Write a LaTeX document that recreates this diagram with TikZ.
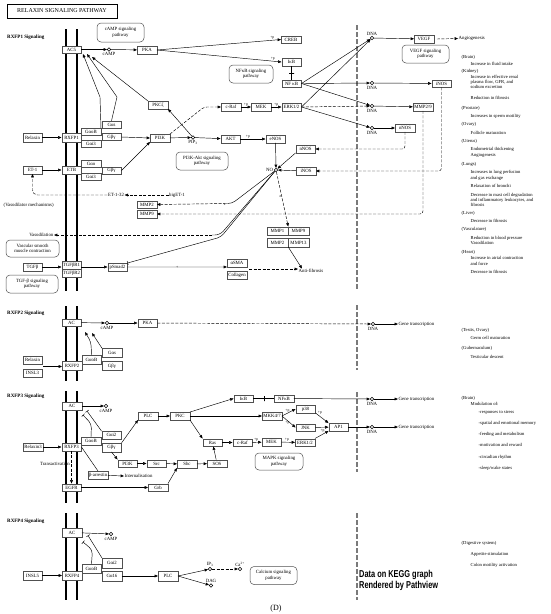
\documentclass[tikz,border=0pt]{standalone}
\usepackage{fontspec}
\setmainfont{Liberation Serif}
\newfontfamily\pathviewfont[FakeStretch=0.74]{Liberation Sans}
\usetikzlibrary{
  arrows.meta,
  positioning
}
\definecolor{BoxGray}{HTML}{505050}
\definecolor{NucleusGray}{HTML}{7A7A7A}
\tikzset{
  gene/.style={
    draw=BoxGray,
    line width=0.45pt,
    fill=white,
    minimum width=19.5pt,
    minimum height=7.5pt,
    inner sep=0.3pt,
    font=\fontsize{4.8}{5}\selectfont
  },
  pathway/.style={
    draw=BoxGray,
    line width=0.5pt,
    rounded corners=4pt,
    fill=white,
    align=center,
    inner sep=0.5pt,
    font=\fontsize{4.8}{5.4}\selectfont
  },
  compound/.style={
    circle,
    draw,
    line width=0.45pt,
    fill=white,
    minimum size=3.6pt,
    inner sep=0pt
  },
  note/.style={
    inner sep=0.5pt,
    font=\fontsize{4.8}{5.2}\selectfont
  },
  effect/.style={
    anchor=west,
    align=left,
    inner sep=0.5pt,
    font=\fontsize{4.6}{5.3}\selectfont
  },
  heading/.style={
    anchor=west,
    inner sep=0pt,
    font=\fontsize{5}{6}\selectfont\bfseries
  },
  phos/.style={
    inner sep=0.3pt,
    font=\fontsize{3.8}{4}\selectfont
  },
  activation/.style={
    -{Triangle[length=3.4pt,width=2.8pt]},
    line width=0.45pt
  },
  expression/.style={
    activation,
    dash pattern=on 3pt off 1.5pt
  },
  inhibition/.style={
    -{Bar[width=4pt]},
    line width=0.45pt
  },
  binding/.style={
    line width=0.45pt
  },
  tickmark/.style={
    draw,
    line width=0.45pt,
    inner sep=0pt,
    minimum width=0pt,
    minimum height=5pt
  },
  membrane/.style={
    line width=1.4pt
  },
  nucleus/.style={
    draw=NucleusGray,
    line width=2.6pt,
    dash pattern=on 5pt off 2pt
  }
}

\begin{document}
\begin{tikzpicture}[x=1pt, y=-1pt]
  \useasboundingbox (0,0) rectangle (550,614);

  % plasma membrane
  \draw[membrane] (66,29) -- (66,291);
  \draw[membrane] (77,29) -- (77,291);
  \draw[membrane] (66,306) -- (66,381);
  \draw[membrane] (77,306) -- (77,381);
  \draw[membrane] (66,391) -- (66,503);
  \draw[membrane] (77,391) -- (77,503);
  \draw[membrane] (66,513) -- (66,600);
  \draw[membrane] (77,513) -- (77,600);

  % nuclear envelope
  \draw[nucleus] (357,25) -- (357,290);
  \draw[nucleus] (357,305) -- (357,370);
  \draw[nucleus] (357,392) -- (357,472);
  \draw[nucleus] (357,513) -- (357,600);

  \node[
    draw,
    line width=0.6pt,
    minimum width=110pt,
    minimum height=14pt,
    font=\fontsize{6}{7}\selectfont
  ] (title) at (62,11) {RELAXIN SIGNALING PATHWAY};

  % ---- RXFP1 signaling ----
  \node[heading] (sig1) at (7,37) {RXFP1 Signaling};

  \node[gene] (ac1) at (71.5,49.5) {AC5};
  \node[compound] (camp1) at (109,49.5) {};
  \node[note, below=0.2pt of camp1] (camp1txt) {cAMP};
  \node[pathway, minimum width=47pt, minimum height=19pt] (camppath) at (120.5,32.5) {cAMP signaling\\pathway};
  \node[gene] (pka1) at (147,50) {PKA};
  \node[gene] (creb) at (291,39.5) {CREB};
  \node[gene] (ikb1) at (291.5,62) {IκB};
  \node[gene] (nfkb1) at (291.5,83.5) {NF κB};
  \node[pathway, minimum width=44pt, minimum height=18pt] (nfkbpath) at (251,74) {NFκB signaling\\pathway};

  \node[compound] (dna1) at (372,38) {};
  \node[note, above=0.2pt of dna1] (dna1txt) {DNA};
  \node[compound] (dna2) at (372,83) {};
  \node[note, below=0.2pt of dna2] (dna2txt) {DNA};
  \node[compound] (dna3) at (372,106) {};
  \node[note, below=0.2pt of dna3] (dna3txt) {DNA};
  \node[compound] (dna4) at (372,128) {};
  \node[note, below=0.2pt of dna4] (dna4txt) {DNA};

  \node[gene] (vegf) at (424,39) {VEGF};
  \node[note, anchor=west] (angio) at (458,38.5) {Angiogenesis};
  \node[pathway, minimum width=47pt, minimum height=18pt] (vegfpath) at (425.5,54) {VEGF signaling\\pathway};
  \node[gene] (inos1) at (441.5,83.5) {iNOS};
  \node[gene, minimum width=20pt] (mmp29) at (423,107) {MMP2/9};
  \node[gene] (nnos1) at (405,128) {nNOS};

  \node[gene] (craf1) at (231,107) {c-Raf};
  \node[gene] (mek1) at (261,107) {MEK};
  \node[gene] (erk1) at (291.5,107) {ERK1/2};
  \node[gene] (pkcz) at (158,105) {PKCζ};

  \node[gene, minimum height=7pt] (gas1) at (111.5,124.5) {Gαs};
  \node[gene, minimum height=7pt] (goB1) at (91,131.5) {GαoB};
  \node[gene, minimum height=7pt] (gbg1) at (111.5,137) {Gβγ};
  \node[gene, minimum height=7pt] (gi31) at (91,144) {Gαi3};
  \node[gene, minimum height=8.5pt] (relaxin1) at (32.5,137.5) {Relaxin};
  \node[gene, minimum height=8.5pt] (rxfp1) at (71.5,137.5) {RXFP1};
  \coordinate (ac1in1) at (83,54);
  \coordinate (ac1in2) at (87,54);
  \coordinate (ac1in3) at (92,57);
  \coordinate (goB1bend) at (100,97);
  \coordinate (gas1bend) at (117,97);

  \node[gene] (pi3k1) at (160,138) {PI3K};
  \node[compound] (pip3) at (193,137.5) {};
  \node[note, below=0.2pt of pip3] (pip3txt) {PIP\textsubscript{3}};
  \coordinate (pi3k1bend) at (204,107);
  \node[gene] (akt) at (230.5,139) {AKT};
  \node[gene] (enos) at (275.5,139) {eNOS};
  \node[pathway, minimum width=52pt, minimum height=18pt] (pi3kpath) at (202,161) {PI3K-Akt signaling\\pathway};
  \node[compound] (no) at (276,170) {};
  \node[note, left=0.3pt of no] (notxt) {NO};
  \node[gene] (nnos2) at (305.5,149) {nNOS};
  \node[gene] (inos2) at (306,171) {iNOS};

  \node[gene] (et1) at (32.5,170) {ET-1};
  \node[gene] (etb) at (71.5,170) {ETB};
  \node[gene, minimum height=7pt] (gao) at (91,164) {Gαo};
  \node[gene, minimum height=7pt] (gi3e) at (91,176.5) {Gαi3};
  \node[gene, minimum height=7pt] (gbge) at (111.5,170.5) {Gβγ};

  \node[note] (biget) at (177,195) {bigET-1};
  \node[note] (et132) at (116,195) {ET-1-32};
  \node[note, anchor=west] (vasomech) at (3,205) {(Vasodilator mechanisms)};
  \node[gene] (mmp2) at (147,204.5) {MMP2};
  \node[gene] (mmp9) at (147,214) {MMP9};
  \node[note, anchor=east] (vasod) at (54,235) {Vasodilation};
  \node[pathway, minimum width=53pt, minimum height=17pt] (vsmpath) at (32.5,248.5) {Vascular smooth\\muscle contraction};
  \coordinate (nommp1) at (232,203.5);
  \coordinate (nommp) at (226,203.5);
  \coordinate (novaso1) at (220,235);
  \coordinate (novaso) at (212,235);
  \coordinate (nosmad) at (221,237);

  \node[gene, minimum width=21pt, minimum height=8.5pt] (gmmp1) at (277.5,231) {MMP1};
  \node[gene, minimum width=21pt, minimum height=8.5pt] (gmmp9) at (298.5,231) {MMP9};
  \node[gene, minimum width=21pt, minimum height=8.5pt] (gmmp2) at (277.5,242.5) {MMP2};
  \node[gene, minimum width=21pt, minimum height=8.5pt] (gmmp13) at (298.5,242.5) {MMP13};
  \node[note, anchor=west] (antifib) at (298,271) {Anti-fibrosis};

  \node[gene] (tgfb) at (32.5,267) {TGFβ};
  \node[gene, minimum height=8pt] (tgfbr1) at (71.5,265) {TGFβR1};
  \node[gene, minimum height=8pt] (tgfbr2) at (71.5,273) {TGFβR2};
  \node[gene] (psmad2) at (117.5,267) {pSmad2};
  \node[gene] (asma) at (237,263) {αSMA};
  \node[gene] (collagen) at (237,275) {Collagen};
  \coordinate (fibsrc) at (249,269);
  \node[pathway, minimum width=52pt, minimum height=18pt] (tgfpath) at (32,284) {TGF-β signaling\\pathway};

  \draw[activation] (ac1) -- (camp1);
  \draw[activation] (camp1) -- (pka1);
  \draw[activation] (pka1.east) -- node[phos, above, pos=0.93] {+p} (creb.west);
  \draw[activation] (pka1.east) -- node[phos, above, pos=0.93] {+p} (ikb1.west);
  \draw[binding] (ikb1) -- node[tickmark, midway, sloped] {} (nfkb1);
  \draw[activation] (nfkb1.east) -- (dna1);
  \draw[activation] (nfkb1.east) -- (dna2);
  \draw[activation] (nfkb1.east) -- (dna3);
  \draw[activation] (erk1.east) -- (dna1);
  \draw[expression] (erk1.east) -- (dna3);
  \draw[activation] (erk1.east) -- (dna4);
  \draw[activation] (dna1) -- (vegf);
  \draw[expression] ([xshift=3pt]vegf.east) -- (angio.west);
  \draw[activation] (dna2) -- (inos1);
  \draw[activation] (dna3) -- (mmp29);
  \draw[activation] (dna4) -- (nnos1);
  \draw[expression, rounded corners=3pt] (inos1.south) |- (inos2.east);
  \draw[expression, rounded corners=3pt] (mmp29.south) |- (mmp9.east);
  \draw[expression, rounded corners=3pt] (nnos1.south) |- (nnos2.east);

  \draw[activation] (goB1.north east) -- (goB1bend) -- (ac1in1);
  \draw[activation] (gas1.north) -- (gas1bend) -- (ac1in2);
  \draw[activation] (pkcz.north west) -- (ac1in3);
  \draw[activation] (pip3) -- (pkcz.south east);
  \draw[expression, rounded corners=3pt] (pi3k1.north east) -- (pi3k1bend) -- (craf1.west);
  \draw[activation] (craf1) -- node[phos, above] {+p} (mek1);
  \draw[activation] (mek1) -- node[phos, above] {+p} (erk1);
  \draw[activation] (relaxin1) -- (rxfp1);
  \draw[activation] (gbg1.east) -- (pi3k1.west);
  \draw[activation] (et1) -- (etb);
  \draw[activation] (gbge.east) -- (pi3k1.south west);
  \draw[activation] (pi3k1) -- (pip3);
  \draw[activation] (pip3) -- (akt);
  \draw[activation] (akt) -- node[phos, above, pos=0.3] {+p} (enos);
  \draw[activation] (enos) -- (no);
  \draw[activation] (nnos2.south west) -- (no);
  \draw[activation] (inos2) -- (no);

  \draw[expression] (biget.west) -- (et132.east);
  \draw[expression, rounded corners=5pt] (et132.west) -| (et1.south);
  \draw[binding, rounded corners=4pt] (no) -- (nommp1) -- (nommp);
  \draw[expression] (nommp) -- node[phos, below, pos=0.02] {e} (mmp2.east);
  \draw[binding, rounded corners=5pt] (no) -- (novaso1) -- (novaso);
  \draw[expression] (novaso) -- (vasod.east);
  \draw[inhibition, rounded corners=4pt] (no) -- (nosmad) -- (psmad2.north east);
  \draw[expression] (no) -- node[phos, left, pos=0.45] {e} (gmmp1.north east);
  \draw[activation] (gmmp2.south east) -- ([xshift=4pt]antifib.north west);

  \draw[activation] (tgfb.east) -- (tgfb.east -| tgfbr1.west);
  \draw[activation] (tgfbr1.east |- psmad2.west) -- (psmad2.west);
  \draw[activation] (psmad2.east) -- node[phos, midway] {+} (asma.south west);
  \draw[expression] (fibsrc) -- (fibsrc -| antifib.west);

  % effects of RXFP1
  \node[effect] (e1) at (461,57) {(Brain)};
  \node[effect] (e2) at (470,64) {Increase in fluid intake};
  \node[effect] (e3) at (461,71) {(Kidney)};
  \node[effect] (e4) at (470,82) {Increase in effective renal\\plasma flow, GFR, and\\sodium excretion};
  \node[effect] (e5) at (470,98) {Reduction in fibrosis};
  \node[effect] (e6) at (461,108) {(Prostate)};
  \node[effect] (e7) at (470,116) {Increases in sperm motility};
  \node[effect] (e8) at (461,124.5) {(Ovary)};
  \node[effect] (e9) at (470,133) {Follicle maturation};
  \node[effect] (e10) at (461,141.5) {(Uterus)};
  \node[effect] (e11) at (470,152.5) {Endometrial thickening\\Angiogenesis};
  \node[effect] (e12) at (461,164) {(Lungs)};
  \node[effect] (e13) at (470,175.5) {Increases in lung perfusion\\and gas exchange};
  \node[effect] (e14) at (470,186) {Relaxation of bronchi};
  \node[effect] (e15) at (470,200) {Decrease in mast cell degradation\\and inflammatory leukocytes, and\\fibrosis};
  \node[effect] (e16) at (461,213) {(Liver)};
  \node[effect] (e17) at (470,221) {Decrease in fibrosis};
  \node[effect] (e18) at (461,229) {(Vasculature)};
  \node[effect] (e19) at (470,240.5) {Reduction in blood pressure\\Vasodilation};
  \node[effect] (e20) at (461,252) {(Heart)};
  \node[effect] (e21) at (470,261) {Increase in atrial contraction\\and force};
  \node[effect] (e22) at (470,272) {Decrease in fibrosis};

  % ---- RXFP2 signaling ----
  \node[heading] (sig2) at (7,313) {RXFP2 Signaling};

  \node[gene] (ac2) at (71.5,322.5) {AC};
  \node[compound] (camp2) at (107,323) {};
  \node[note, below=0.2pt of camp2] (camp2txt) {cAMP};
  \node[gene] (pka2) at (147.5,323) {PKA};
  \node[compound] (dna5) at (373,324) {};
  \node[note, below=0.2pt of dna5] (dna5txt) {DNA};
  \node[note, anchor=west] (gt1) at (398,324) {Gene transcription};
  \node[gene] (relaxin2) at (32.5,360) {Relaxin};
  \node[gene] (insl3) at (32.5,373) {INSL3};
  \coordinate (lig2) at (43,366.5);
  \node[gene, minimum height=9pt] (rxfp2) at (72,366) {RXFP2};
  \node[gene, minimum height=8.5pt] (goB2) at (91.5,359.5) {GαoB};
  \node[gene, minimum height=9pt] (gas2) at (112,353) {Gαs};
  \node[gene, minimum height=9pt] (gbg2) at (112,366) {Gβγ};
  \coordinate (goB2bend) at (91,342);
  \coordinate (ac2in1) at (85,332);
  \coordinate (ac2in2) at (92,333);

  \draw[activation] (ac2) -- (camp2);
  \draw[activation] (camp2) -- (pka2);
  \draw[expression] (pka2) -- (dna5);
  \draw[activation] (dna5) -- (gt1.west);
  \draw[activation] (lig2) -- (lig2 -| rxfp2.west);
  \draw[activation, rounded corners=4pt] (goB2.north) -- (goB2bend) -- (ac2in1);
  \draw[activation] (gas2.north west) -- (ac2in2);

  \node[effect] (f1) at (461,330) {(Testis, Ovary)};
  \node[effect] (f2) at (470,338) {Germ cell maturation};
  \node[effect] (f3) at (461,348) {(Gubernaculum)};
  \node[effect] (f4) at (470,357) {Testicular descent};

  % ---- RXFP3 signaling ----
  \node[heading] (sig3) at (7,396) {RXFP3 Signaling};

  \node[gene] (ikb3) at (243.5,398.5) {IκB};
  \node[gene] (nfkb3) at (284,398.5) {NFκB};
  \node[compound] (dna6) at (372,399) {};
  \node[note, below=0.2pt of dna6] (dna6txt) {DNA};
  \node[note, anchor=west] (gt2) at (398,399) {Gene transcription};
  \node[gene] (ac3) at (72,406) {AC};
  \node[compound] (camp3) at (106,406) {};
  \node[note, below=0.2pt of camp3] (camp3txt) {cAMP};
  \coordinate (ac3in1) at (87,411);
  \coordinate (ac3in2) at (83,415);
  \coordinate (goB3bend) at (91.5,424);

  \node[gene] (relaxin3) at (33,447) {Relaxin3};
  \node[gene] (rxfp3) at (71.5,447) {RXFP3};
  \node[gene] (goB3) at (91,441) {GαoB};
  \node[gene] (gi23) at (111.5,435) {Gαi2};
  \node[gene, minimum height=8.5pt] (gbg3) at (111.5,447.5) {Gβγ};

  \node[gene] (plc3) at (148,416) {PLC};
  \node[gene] (pkc3) at (180,416) {PKC};
  \node[gene] (mkk) at (272,416) {MKK4/7};
  \node[gene] (ras) at (212.5,442.5) {Ras};
  \node[gene] (craf3) at (242.5,442.5) {c-Raf};
  \node[gene] (mek3) at (271.5,442) {MEK};
  \node[gene] (erk3) at (305,442.5) {ERK1/2};
  \node[gene] (p38) at (305.5,409) {p38};
  \node[gene] (jnk) at (305.5,427.5) {JNK};
  \node[gene] (ap1) at (338.5,427) {AP1};
  \node[compound] (dna7) at (372,427) {};
  \node[note, below=0.2pt of dna7] (dna7txt) {DNA};
  \node[note, anchor=west] (gt3) at (398,427) {Gene transcription};
  \node[pathway, minimum width=48pt, minimum height=17pt] (mapkpath) at (279,461.5) {MAPK signaling\\pathway};

  \node[gene] (pi3k3) at (127.5,463.5) {PI3K};
  \node[gene] (src) at (156.5,463.5) {Src};
  \node[gene] (shc) at (187,464) {Shc};
  \node[gene] (sos) at (217,463.5) {SOS};
  \node[gene] (barr) at (98,475) {β-arrestin};
  \node[note, anchor=west] (intern) at (124,476) {Internalisation};
  \node[note, anchor=east] (transact) at (70.5,464) {Transactivation};
  \node[gene] (egfr) at (71.5,487.5) {EGFR};
  \node[gene] (grb) at (158,487.5) {Grb};

  \draw[activation] (pkc3.north east) -- (ikb3.west);
  \draw[binding] (ikb3) -- node[tickmark, midway, sloped] {} (nfkb3);
  \draw[activation] (nfkb3) -- (dna6);
  \draw[activation] (dna6) -- (gt2.west);
  \draw[activation] (ac3) -- (camp3);
  \draw[inhibition] (gi23.north west) -- (ac3in1);
  \draw[inhibition, rounded corners=4pt] (goB3.north) -- (goB3bend) -- (ac3in2);
  \draw[activation] (relaxin3) -- (rxfp3);
  \draw[activation] (gbg3.north east) -- (plc3.south west);
  \draw[activation] (plc3) -- (pkc3);
  \draw[activation] (pkc3) -- (mkk);
  \draw[activation] (pkc3.south east) -- (ras.north west);
  \draw[activation] (ras) -- (craf3);
  \draw[activation] (craf3) -- node[phos, above, pos=0.4] {+p} (mek3);
  \draw[activation] (mek3) -- node[phos, above, pos=0.4] {+p} (erk3);
  \draw[activation] (mkk.east) -- node[phos, above, pos=0.4] {+p} (p38.west);
  \draw[activation] (mkk.east) -- node[phos, below, pos=0.4] {+p} (jnk.west);
  \draw[activation] (p38.south east) -- node[phos, above right, pos=0.15] {+p} (ap1.north west);
  \draw[activation] (jnk) -- (ap1);
  \draw[activation] (erk3.north east) -- node[phos, above left, pos=0.75] {+p} (ap1.south west);
  \draw[activation] (ap1) -- (dna7);
  \draw[activation] (dna7) -- (gt3.west);
  \draw[activation] (gbg3.south) -- (pi3k3.north west);
  \draw[activation] (pi3k3) -- (src);
  \draw[activation] (src) -- (shc);
  \draw[activation] (shc) -- (sos);
  \draw[activation] (sos) -- (ras);
  \draw[binding] (rxfp3.east) -- (barr.north);
  \draw[activation] (barr) -- (intern.west);
  \draw[expression] (rxfp3.south) -- (egfr.north);
  \draw[activation] (egfr) -- (grb);
  \draw[activation] (grb.north east) -- (shc.south west);

  \node[effect] (g1) at (461,398.5) {(Brain)};
  \node[effect] (g2) at (470,404) {Modulation of:};
  \node[effect] (g3) at (478,413) {-responses to stress};
  \node[effect] (g4) at (478,423) {-spatial and emotional memory};
  \node[effect] (g5) at (478,434) {-feeding and metabolism};
  \node[effect] (g6) at (478,445) {-motivation and reward};
  \node[effect] (g7) at (478,457) {-circadian rhythm};
  \node[effect] (g8) at (478,468) {-sleep/wake states};

  % ---- RXFP4 signaling ----
  \node[heading] (sig4) at (7,521) {RXFP4 Signaling};

  \node[gene, minimum height=8.5pt] (ac4) at (72,532.5) {AC};
  \node[compound] (camp4) at (111,534) {};
  \node[note, below=0.2pt of camp4] (camp4txt) {cAMP};
  \coordinate (ac4in1) at (88,535.5);
  \coordinate (ac4in2) at (83,542);
  \coordinate (goB4bend) at (92.5,550);
  \node[gene, minimum height=9pt] (insl5) at (32.5,575.5) {INSL5};
  \node[gene, minimum height=9pt] (rxfp4) at (72,575.5) {RXFP4};
  \node[gene, minimum height=9pt] (goB4) at (91.5,568.5) {GαoB};
  \node[gene, minimum height=9.5pt] (gi24) at (112,563) {Gαi2};
  \node[gene, minimum height=9.5pt] (g164) at (112,576) {Gα16};
  \node[gene, minimum height=9.5pt] (plc4) at (168,576) {PLC};
  \node[compound] (ip3) at (210,569) {};
  \node[note, above=0.2pt of ip3] (ip3txt) {IP\textsubscript{3}};
  \node[compound] (dag) at (211,585.5) {};
  \node[note, above=0.2pt of dag] (dagtxt) {DAG};
  \node[compound] (ca) at (240,569) {};
  \node[note, above=0.2pt of ca] (catxt) {Ca\textsuperscript{2+}};
  \node[pathway, minimum width=47pt, minimum height=18pt] (calpath) at (273.5,575.5) {Calcium signaling\\pathway};

  \draw[activation] (ac4) -- (camp4);
  \draw[inhibition] (gi24.north west) -- (ac4in1);
  \draw[inhibition, rounded corners=4pt] (goB4.north) -- (goB4bend) -- (ac4in2);
  \draw[activation] (insl5) -- (rxfp4);
  \draw[activation] (g164) -- (plc4);
  \draw[activation] (plc4.east) -- (ip3);
  \draw[activation] (plc4.east) -- (dag);
  \draw[expression] (ip3) -- (ca);

  \node[effect] (h1) at (461,543) {(Digestive system)};
  \node[effect] (h2) at (470,554) {Appetite stimulation};
  \node[effect] (h3) at (470,565) {Colon motility activation};

  \node[
    anchor=west,
    align=left,
    inner sep=0pt,
    font=\pathviewfont\bfseries\fontsize{10}{11.5}\selectfont
  ] (pathview) at (359,580.5) {Data on KEGG graph\\Rendered by Pathview};

  \node[font=\fontsize{8}{9}\selectfont] (panel) at (276,609) {(D)};
\end{tikzpicture}
\end{document}
